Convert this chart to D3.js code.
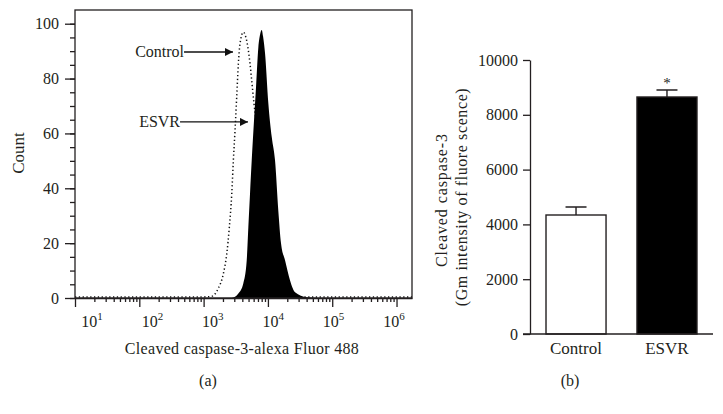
<!DOCTYPE html>
<html>
<head>
<meta charset="utf-8">
<script src="https://cdn.jsdelivr.net/npm/d3@7"></script>
<style>
  body { margin: 0; background: #fff; }
  svg { display: block; font-family: "Liberation Serif", "DejaVu Serif", serif; }
  .axis path, .axis line { stroke: #231f20; stroke-width: 1.3; }
  .axis text { fill: #231f20; font-size: 16px; font-family: "Liberation Serif", serif; }
</style>
</head>
<body>
<div class="chart"></div>
<script>
'use strict';

// (a) flow histogram, fluorescence (log) vs count
var controlFluor = [10, 980, 1340, 1690, 2030, 2290, 2510, 2740, 2900, 3080, 3270, 3470, 3680, 4140,
  4680, 5270, 5600, 6080, 7020, 8100, 9340, 10800, 13400, 1740000];
var controlCount = [0.4, 0.4, 0.6, 3.5, 8.9, 16.1, 25.7, 38.0, 50.0, 61.1, 73.2, 85.4, 92.7, 96.9,
  93.8, 85.4, 79.2, 70.8, 57.3, 35.4, 17.2, 4.4, 0.4, 0.4];
var esvrFluor = [10, 2740, 3470, 4140, 4680, 4960, 5270, 5600, 6080, 6530, 7100, 7540, 8010, 8400,
  9020, 10150, 11500, 12900, 14500, 16000, 18500, 22100, 26400, 40100, 60100, 1740000];
var esvrCount = [0, 0, 1.6, 5.3, 13.7, 25.8, 38.1, 50.2, 64.8, 76.8, 91.4, 96.0, 97.7, 95.4,
  89.2, 71.0, 58.5, 50.2, 31.9, 19.9, 13.7, 6.4, 2.1, 0.3, 0, 0];
var countTicks = [0, 20, 40, 60, 80, 100];
var decadeTicks = [1, 2, 3, 4, 5, 6];

// (b) bar chart
var groups = ['Control', 'ESVR'];
var groupMeans = [4343, 8650];
var groupErrors = [290, 255];
var barTicks = [0, 2000, 4000, 6000, 8000, 10000];

var ink = '#231f20';

var svg = d3.select('.chart').append('svg')
  .attr('width', 723)
  .attr('height', 414);

// ---------- panel (a) ----------
var x = d3.scaleLog()
  .domain([10, 1740000])
  .range([75, 412]);

var y = d3.scaleLinear()
  .domain([0, 105])
  .range([298, 10]);

var a = svg.append('g');

var control = controlFluor.map(function(d, i) {
  return {f: d, c: controlCount[i]};
});
var esvr = esvrFluor.map(function(d, i) {
  return {f: d, c: esvrCount[i]};
});

a.append('path')
  .datum(control)
  .attr('fill', 'none')
  .attr('stroke', '#111')
  .attr('stroke-width', 1.5)
  .attr('stroke-dasharray', '1.3,2.5')
  .attr('d', d3.line()
    .x(function(d) { return x(d.f); })
    .y(function(d) { return y(d.c); })
    .curve(d3.curveMonotoneX));

a.append('path')
  .datum(esvr)
  .attr('fill', '#000')
  .attr('d', d3.area()
    .x(function(d) { return x(d.f); })
    .y0(y(0))
    .y1(function(d) { return y(d.c); })
    .curve(d3.curveMonotoneX));

// frame
a.append('rect')
  .attr('x', x.range()[0])
  .attr('y', y.range()[1])
  .attr('width', x.range()[1] - x.range()[0])
  .attr('height', y.range()[0] - y.range()[1])
  .attr('fill', 'none')
  .attr('stroke', ink)
  .attr('stroke-width', 1.3);

var minorX = x.ticks().filter(function(d) {
  return Math.abs(Math.log10(d) - Math.round(Math.log10(d))) > 1e-6;
});

a.append('g')
  .attr('class', 'axis')
  .attr('transform', 'translate(0,' + y(0) + ')')
  .call(d3.axisBottom(x).tickValues(minorX).tickSize(4).tickFormat(''))
  .call(function(g) { g.select('.domain').remove(); });

a.append('g')
  .attr('class', 'axis')
  .attr('transform', 'translate(0,' + y(0) + ')')
  .call(d3.axisBottom(x).tickValues(decadeTicks.map(function(p) { return Math.pow(10, p); }))
    .tickSize(9).tickSizeOuter(0).tickFormat(''));

// decade labels sit on their own spacing in the original figure
var labelX = d3.scaleLinear().domain([1, 6]).range([95, 397]);
var lab = a.selectAll('.declab')
  .data(decadeTicks)
  .enter().append('text')
  .attr('class', 'declab')
  .attr('x', function(d) { return labelX(d) - 3; })
  .attr('y', 327)
  .attr('text-anchor', 'middle')
  .attr('fill', ink)
  .style('font-size', '16px');
lab.append('tspan').text('10');
lab.append('tspan')
  .attr('dy', -7)
  .style('font-size', '11px')
  .text(function(d) { return d; });

a.append('g')
  .attr('class', 'axis')
  .attr('transform', 'translate(' + x.range()[0] + ',0)')
  .call(d3.axisLeft(y).tickValues(d3.range(0, 101, 5)).tickSize(5).tickFormat(''))
  .call(function(g) { g.select('.domain').remove(); });

a.append('g')
  .attr('class', 'axis')
  .attr('transform', 'translate(' + x.range()[0] + ',0)')
  .call(d3.axisLeft(y).tickValues(countTicks).tickSize(10).tickSizeOuter(0).tickPadding(6))
  .call(function(g) { g.select('.domain').remove(); });

a.append('text')
  .attr('transform', 'translate(24,153) rotate(-90)')
  .attr('text-anchor', 'middle')
  .attr('fill', ink)
  .style('font-size', '17px')
  .text('Count');

a.append('text')
  .attr('x', 242)
  .attr('y', 354)
  .attr('text-anchor', 'middle')
  .attr('fill', ink)
  .style('font-size', '16px')
  .style('letter-spacing', '0.3px')
  .text('Cleaved caspase-3-alexa Fluor 488');

a.append('text')
  .attr('x', 208)
  .attr('y', 386)
  .attr('text-anchor', 'middle')
  .attr('fill', ink)
  .style('font-size', '16px')
  .text('(a)');

// arrows
svg.append('defs').append('marker')
  .attr('id', 'head')
  .attr('viewBox', '0 0 10 10')
  .attr('refX', 10).attr('refY', 5)
  .attr('markerWidth', 8).attr('markerHeight', 8)
  .attr('markerUnits', 'userSpaceOnUse')
  .attr('orient', 'auto')
  .append('path')
  .attr('d', 'M0,0L10,5L0,10Z')
  .attr('fill', '#111');

var notes = [
  {label: 'Control', from: 496, to: 2860, c: 89.7},
  {label: 'ESVR', from: 430, to: 4900, c: 64.2}
];
notes.forEach(function(n) {
  a.append('line')
    .attr('x1', x(n.from))
    .attr('x2', x(n.to))
    .attr('y1', y(n.c))
    .attr('y2', y(n.c))
    .attr('stroke', '#111')
    .attr('stroke-width', 1.4)
    .attr('marker-end', 'url(#head)');
  a.append('text')
    .attr('x', x(n.from))
    .attr('y', y(n.c) + 5)
    .attr('text-anchor', 'end')
    .attr('fill', ink)
    .style('font-size', '16px')
    .text(n.label);
});

// ---------- panel (b) ----------
var bx = d3.scaleBand()
  .domain(groups)
  .range([530, 713])
  .paddingInner(0.34)
  .paddingOuter(0.176);

var by = d3.scaleLinear()
  .domain([0, 10000])
  .range([334, 60]);

var b = svg.append('g');

var bars = groups.map(function(g, i) {
  return {name: g, v: groupMeans[i], e: groupErrors[i]};
});

b.selectAll('.err')
  .data(bars)
  .enter().append('path')
  .attr('class', 'err')
  .attr('fill', 'none')
  .attr('stroke', ink)
  .attr('stroke-width', 1.4)
  .attr('d', function(d) {
    var cx = bx(d.name) + bx.bandwidth() / 2;
    return 'M' + cx + ',' + by(d.v) + 'V' + by(d.v + d.e) +
      'M' + (cx - 10.5) + ',' + by(d.v + d.e) + 'H' + (cx + 10.5);
  });

b.selectAll('.bar')
  .data(bars)
  .enter().append('rect')
  .attr('class', 'bar')
  .attr('x', function(d) { return bx(d.name); })
  .attr('width', bx.bandwidth())
  .attr('y', function(d) { return by(d.v); })
  .attr('height', function(d) { return by(0) - by(d.v); })
  .attr('fill', function(d, i) { return i === 0 ? '#fff' : '#000'; })
  .attr('stroke', ink)
  .attr('stroke-width', 1.4);

b.append('text')
  .attr('x', bx('ESVR') + bx.bandwidth() / 2)
  .attr('y', by(groupMeans[1] + groupErrors[1]) - 2)
  .attr('text-anchor', 'middle')
  .attr('fill', ink)
  .style('font-size', '15px')
  .text('*');

b.append('g')
  .attr('class', 'axis')
  .attr('transform', 'translate(530,0)')
  .call(d3.axisLeft(by).tickValues(barTicks).tickSize(7).tickSizeOuter(0).tickPadding(5)
    .tickFormat(d3.format('d')));

b.append('line')
  .attr('x1', 523)
  .attr('x2', 713)
  .attr('y1', by(0))
  .attr('y2', by(0))
  .attr('stroke', ink)
  .attr('stroke-width', 1.4);

b.selectAll('.glab')
  .data(groups)
  .enter().append('text')
  .attr('class', 'glab')
  .attr('x', function(d) { return bx(d) + bx.bandwidth() / 2; })
  .attr('y', 354)
  .attr('text-anchor', 'middle')
  .attr('fill', ink)
  .style('font-size', '17px')
  .text(function(d) { return d; });

b.append('text')
  .attr('transform', 'translate(447,200) rotate(-90)')
  .attr('text-anchor', 'middle')
  .attr('fill', ink)
  .style('font-size', '16px')
  .style('letter-spacing', '0.9px')
  .text('Cleaved caspase-3');

b.append('text')
  .attr('transform', 'translate(467,197) rotate(-90)')
  .attr('text-anchor', 'middle')
  .attr('fill', ink)
  .style('font-size', '16px')
  .style('letter-spacing', '0.6px')
  .text('(Gm intensity of fluore scence)');

b.append('text')
  .attr('x', 570)
  .attr('y', 386)
  .attr('text-anchor', 'middle')
  .attr('fill', ink)
  .style('font-size', '16px')
  .text('(b)');
</script>
</body>
</html>
